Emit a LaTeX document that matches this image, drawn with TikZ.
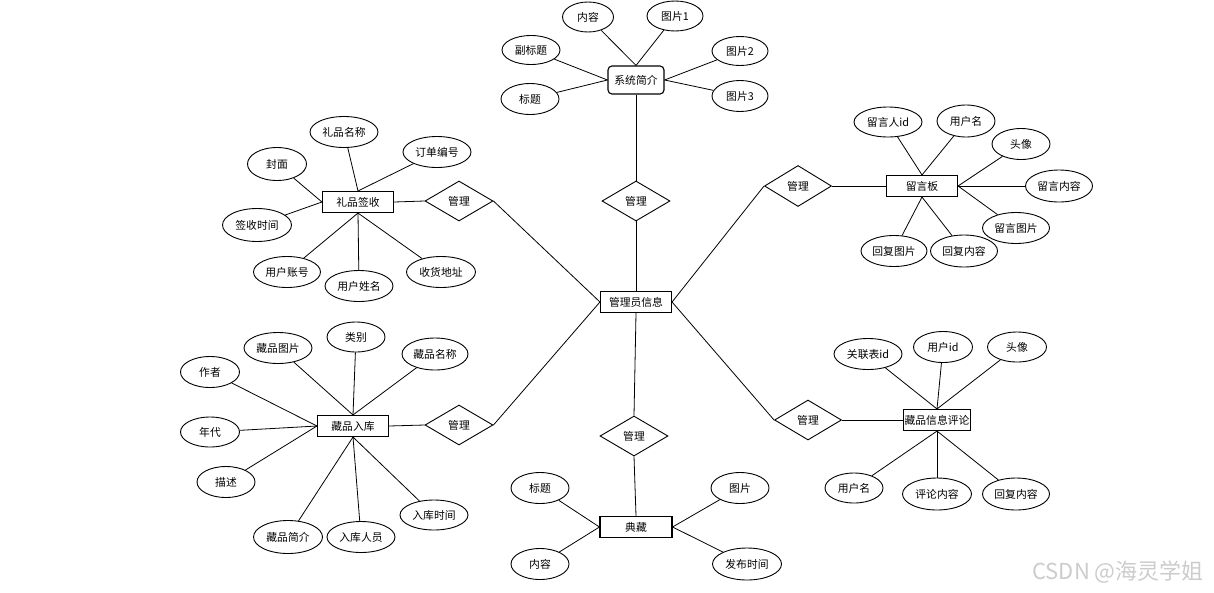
\documentclass[tikz,border=0pt]{standalone}
\usepackage{fontspec}
\setmainfont{Noto Sans CJK SC}
\usetikzlibrary{shapes.geometric}
\begin{document}
\begin{tikzpicture}[x=1pt,y=-1pt,
  every node/.style={font=\fontsize{10.8}{12}\selectfont, inner sep=0pt},
  ent/.style={draw, rectangle, minimum width=71pt, minimum height=21pt, line width=1.1pt},
  attr/.style={draw, ellipse, minimum width=#1, minimum height=31pt, line width=0.9pt},
  attr/.default=68pt,
  rel/.style={draw, diamond, minimum width=68pt, minimum height=40pt, line width=0.9pt},
  conn/.style={line width=0.8pt},
  wmark/.style={text=gray!40, font=\fontsize{22}{24}\selectfont}
]
\useasboundingbox (0,0) rectangle (1214,592);
\fill[white] (0,0) rectangle (1214,592);

% 系统简介
\node[ent, rounded corners=4pt, minimum width=56pt, minimum height=28pt] (xt) at (636,80) {系统简介};
\node[attr=51pt, minimum height=30pt] (nr1) at (588,17) {内容};
\node[attr=56pt, minimum height=30pt] (tp1) at (675,16) {图片1};
\node[attr=58pt, minimum height=29pt] (fbt) at (531,50) {副标题};
\node[attr=58pt] (bt1) at (530,99) {标题};
\node[attr=56pt, minimum height=29pt] (tp2) at (740,51) {图片2};
\node[attr=56pt] (tp3) at (740,96) {图片3};
\draw[conn] (nr1) -- (xt.north);
\draw[conn] (tp1) -- (xt.north);
\draw[conn] (fbt) -- (xt.west);
\draw[conn] (bt1) -- (xt.west);
\draw[conn] (tp2) -- (xt.east);
\draw[conn] (tp3) -- (xt.east);

% centre column
\node[rel] (m1) at (636,201) {管理};
\node[ent] (admin) at (636,302) {管理员信息};
\node[rel] (m2) at (634,436) {管理};
\node[ent, minimum width=72pt] (dc) at (636,527) {典藏};
\draw[conn] (xt.south) -- (m1.north);
\draw[conn] (m1.south) -- (admin.north);
\draw[conn] (admin.south) -- (m2.north);
\draw[conn] (m2.south) -- (dc.north);

\node[attr=58pt] (bt2) at (540,488) {标题};
\node[attr=58pt] (nr2) at (540,564) {内容};
\node[attr=58pt] (tp) at (740,488) {图片};
\node[attr=69pt, minimum height=32pt] (fbsj) at (747,564) {发布时间};
\draw[conn] (bt2) -- (dc.west);
\draw[conn] (nr2) -- (dc.west);
\draw[conn] (tp) -- (dc.east);
\draw[conn] (fbsj) -- (dc.east);

% 留言板
\node[rel, minimum width=67pt, minimum height=41pt] (m3) at (798,186) {管理};
\node[ent] (lyb) at (922,186) {留言板};
\node[attr=68pt, minimum height=30pt] (lyrid) at (888,122) {留言人id};
\node[attr=58pt, minimum height=32pt] (yhm1) at (966,121) {用户名};
\node[attr=58pt] (tx1) at (1021,144) {头像};
\node[attr=67pt, minimum height=32pt] (lynr) at (1059,186) {留言内容};
\node[attr=67pt] (lytp) at (1016,228) {留言图片};
\node[attr=67pt, minimum height=32pt] (hfnr1) at (964,251) {回复内容};
\node[attr=66pt] (hftp) at (894,251) {回复图片};
\draw[conn] (m3.east) -- (lyb.west);
\draw[conn] (lyrid) -- (lyb.north);
\draw[conn] (yhm1) -- (lyb.north);
\draw[conn] (tx1) -- (lyb.east);
\draw[conn] (lynr) -- (lyb.east);
\draw[conn] (lytp) -- (lyb.east);
\draw[conn] (hfnr1) -- (lyb.south);
\draw[conn] (hftp) -- (lyb.south);

% 藏品信息评论
\node[rel, minimum width=67pt] (m4) at (808,420) {管理};
\node[ent, minimum width=67pt] (plxx) at (937,420) {藏品信息评论};
\node[attr=68pt] (glb) at (868,354) {关联表id};
\node[attr=59pt] (yhid) at (943,347) {用户id};
\node[attr=59pt, minimum height=30pt] (tx2) at (1017,347) {头像};
\node[attr=58pt, minimum height=30pt] (yhm2) at (854,488) {用户名};
\node[attr=69pt, minimum height=32pt] (plnr) at (937,494) {评论内容};
\node[attr=67pt, minimum height=32pt] (hfnr2) at (1016,494) {回复内容};
\draw[conn] (m4.east) -- (plxx.west);
\draw[conn] (glb) -- (plxx.north);
\draw[conn] (yhid) -- (plxx.north);
\draw[conn] (tx2) -- (plxx.north);
\draw[conn] (yhm2) -- (plxx.south);
\draw[conn] (plnr) -- (plxx.south);
\draw[conn] (hfnr2) -- (plxx.south);

% 礼品签收
\node[ent] (lpqs) at (358,202) {礼品签收};
\node[rel] (m5) at (459,201) {管理};
\node[attr=68pt] (lpmc) at (344,132) {礼品名称};
\node[attr=68pt] (ddbh) at (437,152) {订单编号};
\node[attr=59pt, minimum height=33pt] (fm) at (277,164) {封面};
\node[attr=69pt, minimum height=33pt] (qssj) at (257,225) {签收时间};
\node[attr=67pt] (yhzh) at (287,272) {用户账号};
\node[attr=68pt] (yhxm) at (359,286) {用户姓名};
\node[attr=69pt] (shdz) at (441,272) {收货地址};
\draw[conn] (lpqs.east) -- (m5.west);
\draw[conn] (lpmc) -- (lpqs.north);
\draw[conn] (ddbh) -- (lpqs.north);
\draw[conn] (fm) -- (lpqs.west);
\draw[conn] (qssj) -- (lpqs.west);
\draw[conn] (yhzh) -- (lpqs.south);
\draw[conn] (yhxm) -- (lpqs.south);
\draw[conn] (shdz) -- (lpqs.south);

% 藏品入库
\node[ent] (cprk) at (353,426) {藏品入库};
\node[rel] (m6) at (459,425) {管理};
\node[attr=58pt, minimum height=30pt] (lb) at (356,337) {类别};
\node[attr=68pt] (cptp) at (278,348) {藏品图片};
\node[attr=66pt, minimum height=32pt] (cpmc) at (435,354) {藏品名称};
\node[attr=59pt] (zz) at (210,372) {作者};
\node[attr=59pt, minimum height=30pt] (nd) at (210,432) {年代};
\node[attr=58pt] (ms) at (226,482) {描述};
\node[attr=69pt, minimum height=33pt] (cpjj) at (288,537) {藏品简介};
\node[attr=68pt] (rkry) at (361,537) {入库人员};
\node[attr=68pt, minimum height=30pt] (rksj) at (434,515) {入库时间};
\draw[conn] (cprk.east) -- (m6.west);
\draw[conn] (lb) -- (cprk.north);
\draw[conn] (cptp) -- (cprk.north);
\draw[conn] (cpmc) -- (cprk.north);
\draw[conn] (zz) -- (cprk.west);
\draw[conn] (nd) -- (cprk.west);
\draw[conn] (ms) -- (cprk.west);
\draw[conn] (cpjj) -- (cprk.south);
\draw[conn] (rkry) -- (cprk.south);
\draw[conn] (rksj) -- (cprk.south);

% relations to admin
\draw[conn] (m5.east) -- (admin.west);
\draw[conn] (m6.east) -- (admin.west);
\draw[conn] (m3.west) -- (admin.east);
\draw[conn] (m4.west) -- (admin.east);

\node[wmark] (wm) at (1118,572) {CSDN @海灵学姐};
\end{tikzpicture}
\end{document}
